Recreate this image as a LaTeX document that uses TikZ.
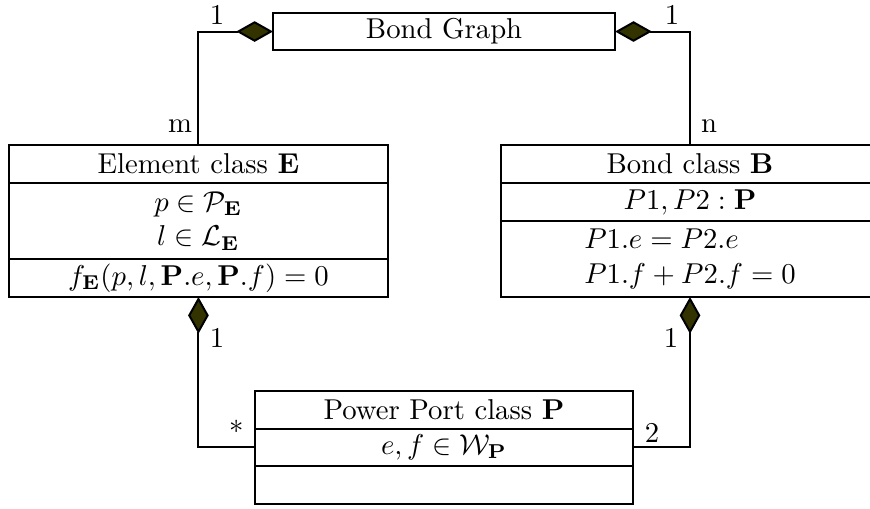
\documentclass[tikz,border=0pt]{standalone}
\usetikzlibrary{arrows.meta}
\definecolor{dia}{RGB}{51,51,0}
\begin{document}
\begin{tikzpicture}[x=0.3484pt,y=-0.3484pt,
  box/.style={draw, line width=0.7pt, inner sep=0pt, outer sep=0pt, anchor=north west},
  conn/.style={line width=0.7pt},
  compo/.style={{Diamond[length=12.8pt,width=7.2pt,fill=dia]}-},
  lbl/.style={inner sep=0pt}]
\useasboundingbox (0,0) rectangle (870,508);
% Bond Graph
\node[box, minimum width=119.2pt, minimum height=12.9pt] (BG) at (273,13) {Bond Graph};
% Element class
\node[box, minimum width=132pt, minimum height=13.24pt] (E1) at (9,145) {Element class $\mathbf{E}$};
\node[box, minimum width=132pt, minimum height=26.48pt, align=center] (E2) at (E1.south west) {$p\in\mathcal{P}_{\mathbf{E}}$\\$l\in\mathcal{L}_{\mathbf{E}}$};
\node[box, minimum width=132pt, minimum height=13.24pt] (E3) at (E2.south west) {$f_{\mathbf{E}}(p,l,\mathbf{P}.e,\mathbf{P}.f)=0$};
% Bond class
\node[box, minimum width=131.7pt, minimum height=13.24pt] (B1) at (501,145) {Bond class $\mathbf{B}$};
\node[box, minimum width=131.7pt, minimum height=13.24pt] (B2) at (B1.south west) {$P1,P2:\mathbf{P}$};
\node[box, minimum width=131.7pt, minimum height=26.48pt, align=left] (B3) at (B2.south west) {$P1.e=P2.e$\\$P1.f+P2.f=0$};
% Power Port class
\node[box, minimum width=131.7pt, minimum height=13.2pt] (P1) at (255,391) {Power Port class $\mathbf{P}$};
\node[box, minimum width=131.7pt, minimum height=12.9pt] (P2) at (P1.south west) {$e,f\in\mathcal{W}_{\mathbf{P}}$};
\node[box, minimum width=131.7pt, minimum height=13.2pt] (P3) at (P2.south west) {};
% connectors
\draw[conn, compo] (BG.west) -| (E1.north);
\draw[conn, compo] (BG.east) -| (B1.north);
\draw[conn, compo] (E3.south) |- (P2.west);
\draw[conn, compo] (B3.south) |- (P2.east);
% multiplicities
\node[lbl] (l1) at (217,15) {1};
\node[lbl] (l2) at (672,15) {1};
\node[lbl] (lm) at (180,126) {m};
\node[lbl] (ln) at (709,126) {n};
\node[lbl] (l3) at (217,338) {1};
\node[lbl] (l4) at (671,338) {1};
\node[lbl] (ls) at (237,427) {$*$};
\node[lbl] (l5) at (652,433) {2};
\end{tikzpicture}
\end{document}
